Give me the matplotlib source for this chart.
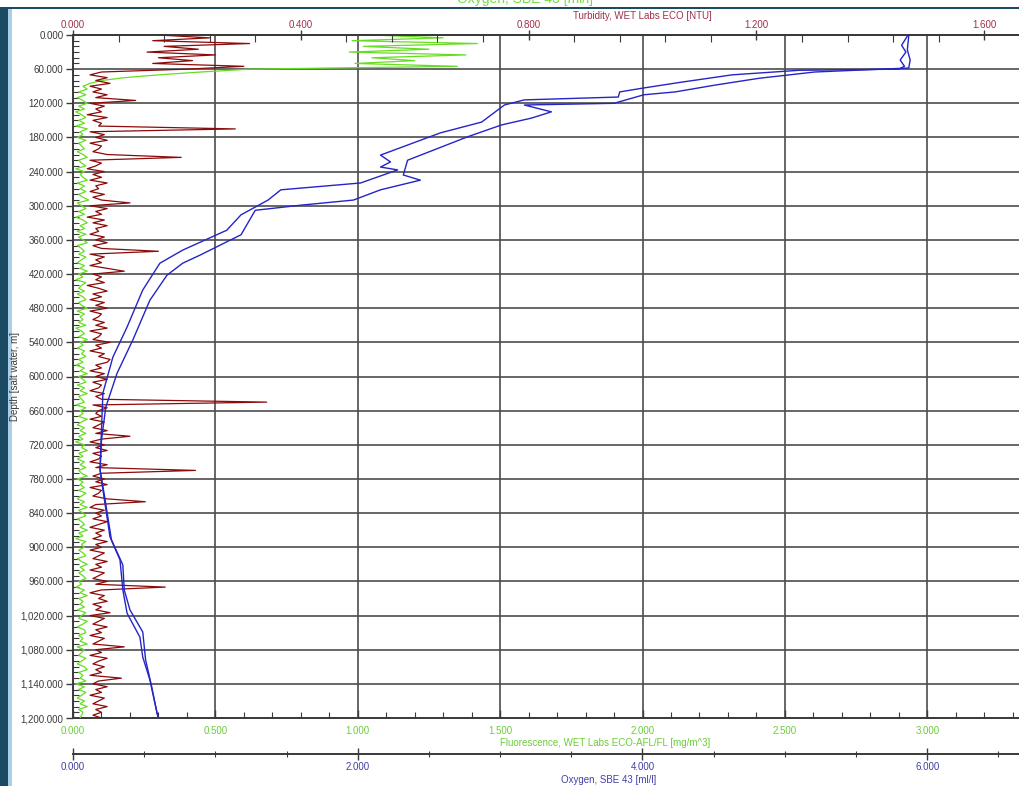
import numpy as np
import matplotlib
matplotlib.use("Agg")
import matplotlib.pyplot as plt
from matplotlib.patches import Rectangle
from matplotlib.ticker import MultipleLocator, FuncFormatter

plt.rcParams['font.family'] = ['Liberation Sans', 'DejaVu Sans']

# ---------------- data ----------------
# regular 5 m depth bins for turbidity / fluorescence
depth_bins = np.arange(0, 1201, 5)

turbidity = [
    0.15, 0.24, 0.14, 0.31, 0.16, 0.22, 0.13, 0.25, 0.15, 0.21,
    0.14, 0.30, 0.20, 0.05, 0.03, 0.06, 0.04, 0.065, 0.03, 0.05,
    0.035, 0.06, 0.04, 0.11, 0.03, 0.055, 0.04, 0.05, 0.025, 0.06,
    0.035, 0.05, 0.045, 0.285, 0.03, 0.055, 0.04, 0.06, 0.03, 0.05,
    0.045, 0.035, 0.06, 0.19, 0.03, 0.05, 0.04, 0.025, 0.055, 0.035,
    0.05, 0.03, 0.06, 0.04, 0.045, 0.03, 0.055, 0.035, 0.05, 0.10,
    0.03, 0.06, 0.04, 0.05, 0.025, 0.055, 0.035, 0.06, 0.04, 0.045,
    0.03, 0.055, 0.04, 0.06, 0.035, 0.05, 0.15, 0.03, 0.055, 0.04,
    0.05, 0.03, 0.06, 0.09, 0.035, 0.05, 0.04, 0.055, 0.025, 0.045,
    0.06, 0.035, 0.05, 0.03, 0.055, 0.04, 0.06, 0.03, 0.05, 0.045,
    0.035, 0.055, 0.04, 0.06, 0.03, 0.05, 0.045, 0.035, 0.065, 0.04,
    0.05, 0.03, 0.055, 0.045, 0.065, 0.06, 0.04, 0.05, 0.03, 0.055,
    0.04, 0.06, 0.035, 0.05, 0.045, 0.03, 0.055, 0.04, 0.05, 0.34,
    0.035, 0.06, 0.045, 0.04, 0.05, 0.03, 0.055, 0.045, 0.035, 0.06,
    0.04, 0.10, 0.05, 0.03, 0.055, 0.04, 0.06, 0.035, 0.05, 0.045,
    0.03, 0.06, 0.04, 0.215, 0.05, 0.035, 0.055, 0.04, 0.06, 0.03,
    0.05, 0.045, 0.035, 0.06, 0.127, 0.04, 0.03, 0.055, 0.04, 0.05,
    0.035, 0.06, 0.045, 0.03, 0.055, 0.04, 0.05, 0.035, 0.06, 0.04,
    0.05, 0.03, 0.055, 0.045, 0.035, 0.06, 0.04, 0.05, 0.03, 0.055,
    0.045, 0.035, 0.06, 0.04, 0.162, 0.05, 0.03, 0.055, 0.045, 0.06,
    0.035, 0.05, 0.04, 0.065, 0.03, 0.055, 0.045, 0.035, 0.06, 0.04,
    0.05, 0.03, 0.055, 0.045, 0.035, 0.09, 0.04, 0.05, 0.03, 0.06,
    0.045, 0.035, 0.055, 0.04, 0.05, 0.03, 0.085, 0.045, 0.035, 0.06,
    0.04, 0.05, 0.03, 0.055, 0.045, 0.035, 0.06, 0.04, 0.05, 0.035,
    0.05,
]

fluorescence = [
    1.05, 1.30, 0.98, 1.42, 1.02, 1.25, 0.97, 1.38, 1.05, 1.20,
    0.99, 1.35, 0.62, 0.45, 0.30, 0.18, 0.10, 0.06, 0.035, 0.05,
    0.02, 0.045, 0.015, 0.035, 0.05, 0.02, 0.04, 0.01, 0.03, 0.045,
    0.02, 0.04, 0.01, 0.05, 0.025, 0.035, 0.015, 0.045, 0.02, 0.03,
    0.04, 0.015, 0.035, 0.05, 0.02, 0.03, 0.045, 0.01, 0.04, 0.025,
    0.035, 0.05, 0.015, 0.04, 0.025, 0.045, 0.02, 0.035, 0.055, 0.015,
    0.03, 0.045, 0.02, 0.04, 0.01, 0.035, 0.05, 0.025, 0.04, 0.015,
    0.045, 0.02, 0.035, 0.05, 0.015, 0.03, 0.04, 0.02, 0.045, 0.03,
    0.015, 0.04, 0.025, 0.05, 0.02, 0.035, 0.01, 0.045, 0.03, 0.02,
    0.04, 0.015, 0.035, 0.045, 0.02, 0.03, 0.05, 0.015, 0.04, 0.025,
    0.035, 0.02, 0.045, 0.01, 0.03, 0.04, 0.02, 0.05, 0.025, 0.035,
    0.015, 0.04, 0.03, 0.045, 0.02, 0.035, 0.01, 0.04, 0.025, 0.05,
    0.02, 0.035, 0.045, 0.015, 0.04, 0.025, 0.05, 0.02, 0.03, 0.04,
    0.01, 0.045, 0.025, 0.035, 0.02, 0.05, 0.03, 0.015, 0.04, 0.025,
    0.045, 0.02, 0.035, 0.01, 0.04, 0.03, 0.05, 0.02, 0.035, 0.015,
    0.04, 0.025, 0.045, 0.02, 0.03, 0.05, 0.015, 0.035, 0.025, 0.04,
    0.02, 0.045, 0.03, 0.015, 0.04, 0.025, 0.05, 0.02, 0.035, 0.045,
    0.015, 0.03, 0.04, 0.025, 0.05, 0.02, 0.035, 0.01, 0.045, 0.03,
    0.04, 0.02, 0.035, 0.045, 0.015, 0.03, 0.05, 0.025, 0.04, 0.02,
    0.035, 0.045, 0.02, 0.03, 0.01, 0.04, 0.025, 0.05, 0.02, 0.035,
    0.025, 0.04, 0.015, 0.045, 0.03, 0.02, 0.05, 0.035, 0.015, 0.04,
    0.045, 0.02, 0.035, 0.025, 0.05, 0.015, 0.04, 0.03, 0.02, 0.045,
    0.03, 0.015, 0.04, 0.05, 0.02, 0.035, 0.025, 0.045, 0.01, 0.04,
    0.02, 0.045, 0.03, 0.015, 0.04, 0.025, 0.05, 0.02, 0.035, 0.03,
    0.025,
]

# oxygen, two casts (down / up)
oxy_depth_a = [2, 18, 30, 44, 55, 60, 62, 70, 83, 93, 100, 109, 114, 123, 153, 172,
               211, 223, 232, 237, 260, 272, 290, 316, 343, 378, 401, 448, 513, 566,
               629, 694, 764, 799, 882, 922, 975, 1016, 1058, 1093, 1133, 1191, 1200]
oxy_a = [5.86, 5.82, 5.85, 5.81, 5.84, 5.80, 5.10, 4.63, 4.27, 4.01, 3.84, 3.83, 3.17,
         3.03, 2.87, 2.58, 2.16, 2.23, 2.16, 2.28, 2.02, 1.46, 1.37, 1.18, 1.08, 0.77,
         0.61, 0.49, 0.38, 0.28, 0.21, 0.20, 0.19, 0.21, 0.26, 0.33, 0.35, 0.38, 0.47,
         0.49, 0.54, 0.59, 0.60]
oxy_depth_b = [2, 26, 44, 58, 65, 76, 88, 100, 105, 120, 123, 135, 146, 158, 179, 220,
               246, 255, 272, 290, 299, 308, 351, 387, 401, 422, 466, 536, 594, 654,
               712, 764, 808, 887, 931, 975, 1010, 1049, 1098, 1142, 1191, 1200]
oxy_b = [5.87, 5.86, 5.88, 5.87, 5.21, 4.82, 4.51, 4.23, 4.01, 3.80, 3.17, 3.36, 3.22,
         3.01, 2.77, 2.35, 2.32, 2.44, 2.16, 1.97, 1.60, 1.28, 1.18, 0.89, 0.77, 0.66,
         0.54, 0.42, 0.31, 0.23, 0.20, 0.19, 0.22, 0.27, 0.35, 0.36, 0.40, 0.49, 0.51,
         0.55, 0.59, 0.60]

depth_ticks = list(range(0, 1201, 60))
turb_ticks = [0.0, 0.4, 0.8, 1.2, 1.6]
fluor_ticks = [0.0, 0.5, 1.0, 1.5, 2.0, 2.5, 3.0]
oxy_ticks = [0.0, 2.0, 4.0, 6.0]

# ---------------- figure ----------------
W, H = 1019, 786
fig = plt.figure(figsize=(W / 100, H / 100), dpi=100)
fig.patch.set_facecolor('white')

# window frame decorations
fig.patches.append(Rectangle((0, 0), 8 / W, 1 - 7 / H, transform=fig.transFigure,
                             facecolor='#1c4a63', edgecolor='none', zorder=-5))
fig.patches.append(Rectangle((8 / W, 0), 4 / W, 1 - 9 / H, transform=fig.transFigure,
                             facecolor='#a9cfe6', edgecolor='none', zorder=-5))
fig.patches.append(Rectangle((0, 1 - 9 / H), 1, 2 / H, transform=fig.transFigure,
                             facecolor='#1c4a63', edgecolor='none', zorder=-5))

left_px, top_px, bot_px, right_px = 73, 35, 718, 1212
ax = fig.add_axes([left_px / W, 1 - bot_px / H, (right_px - left_px) / W,
                   (bot_px - top_px) / H])
ax.set_zorder(1)
axw = right_px - left_px
axh = bot_px - top_px

grid_c = '#4d4d4d'
spine_c = '#3a3a3a'
txt_c = '#3a3a3a'
green = '#66dd22'
green_txt = '#6ccc3a'
red = '#8b0a0a'
red_txt = '#a0304a'
blue = '#2424c8'
blue_txt = '#4040a8'

# main axis: depth + fluorescence (bottom)
ax.set_ylim(1200, 0)
ax.set_xlim(0, 4.0)
ax.plot(fluorescence, depth_bins, color=green, lw=0.9, zorder=3)
ax.set_yticks(depth_ticks)
ax.yaxis.set_minor_locator(MultipleLocator(10))
ax.yaxis.set_major_formatter(FuncFormatter(lambda v, p: f"{v:,.3f}"))
ax.set_xticks(fluor_ticks)
ax.xaxis.set_minor_locator(MultipleLocator(0.1))
ax.xaxis.set_major_formatter(FuncFormatter(lambda v, p: f"{v:.3f}"))
ax.grid(True, which='major', color=grid_c, lw=1.2)
ax.set_axisbelow(True)
ax.tick_params(axis='y', which='major', direction='out', length=5, width=1,
               color=spine_c, labelsize=7, labelcolor=txt_c, pad=2)
ax.tick_params(axis='y', which='minor', direction='in', length=4, width=0.8,
               color=spine_c)
ax.tick_params(axis='x', which='major', direction='in', length=6, width=1,
               color=spine_c, labelsize=7, labelcolor=green_txt, pad=6)
ax.tick_params(axis='x', which='minor', direction='in', length=4, width=0.8,
               color=spine_c)
for s in ['left', 'bottom', 'top']:
    ax.spines[s].set_color(spine_c)
    ax.spines[s].set_linewidth(1.4)
ax.spines['right'].set_visible(False)
ax.set_ylabel('Depth [salt water, m]', fontsize=7, color=txt_c)
ax.yaxis.set_label_coords((20 - left_px) / axw, 0.5)
ax.set_xlabel('Fluorescence, WET Labs ECO-AFL/FL [mg/m^3]', fontsize=7,
              color=green_txt)
ax.xaxis.set_label_coords((605 - left_px) / axw, -(738 - bot_px) / axh)

# turbidity (top)
ax2 = ax.twiny()
ax2.set_xlim(0, 2.0)
ax2.plot(turbidity, depth_bins, color=red, lw=0.9, zorder=3)
ax2.set_xticks(turb_ticks)
ax2.xaxis.set_minor_locator(MultipleLocator(0.08))
ax2.xaxis.set_major_formatter(FuncFormatter(lambda v, p: f"{v:.3f}"))
ax2.tick_params(axis='x', which='major', direction='inout', length=7, width=1,
                color=spine_c, labelsize=7, labelcolor=red_txt, pad=0)
ax2.tick_params(axis='x', which='minor', direction='in', length=5, width=0.8,
                color=spine_c)
for s in ['left', 'bottom', 'right']:
    ax2.spines[s].set_visible(False)
ax2.spines['top'].set_color(spine_c)
ax2.spines['top'].set_linewidth(1.4)
ax2.set_xlabel('Turbidity, WET Labs ECO [NTU]', fontsize=7, color=red_txt)
ax2.xaxis.set_label_coords(0.5, 1 + (top_px - 19) / axh)

# oxygen (second bottom axis)
ax3 = ax.twiny()
ax3.set_xlim(0, 8.0)
ax3.plot(oxy_a, oxy_depth_a, color=blue, lw=1.0, zorder=4)
ax3.plot(oxy_b, oxy_depth_b, color=blue, lw=1.0, zorder=4)
ax3.xaxis.set_ticks_position('bottom')
ax3.xaxis.set_label_position('bottom')
ax3.spines['bottom'].set_position(('outward', (754 - bot_px) * 0.72))
ax3.set_xticks(oxy_ticks)
ax3.xaxis.set_minor_locator(MultipleLocator(0.5))
ax3.xaxis.set_major_formatter(FuncFormatter(lambda v, p: f"{v:.3f}"))
ax3.tick_params(axis='x', which='major', direction='inout', length=8, width=1,
                color=spine_c, labelsize=7, labelcolor=blue_txt, pad=2)
ax3.tick_params(axis='x', which='minor', direction='inout', length=5, width=0.8,
                color=spine_c)
for s in ['left', 'top', 'right']:
    ax3.spines[s].set_visible(False)
ax3.spines['bottom'].set_color(spine_c)
ax3.spines['bottom'].set_linewidth(1.4)
ax3.set_xlabel('Oxygen, SBE 43 [ml/l]', fontsize=7, color=blue_txt)
ax3.xaxis.set_label_coords((609 - left_px) / axw, -(775 - bot_px) / axh)

# cut-off window title
fig.text(525 / W, 1 + 1 / H, 'Oxygen, SBE 43 [ml/l]', fontsize=10, color='#77dd44',
         ha='center', va='center')

fig.savefig('out.png', dpi=100)
